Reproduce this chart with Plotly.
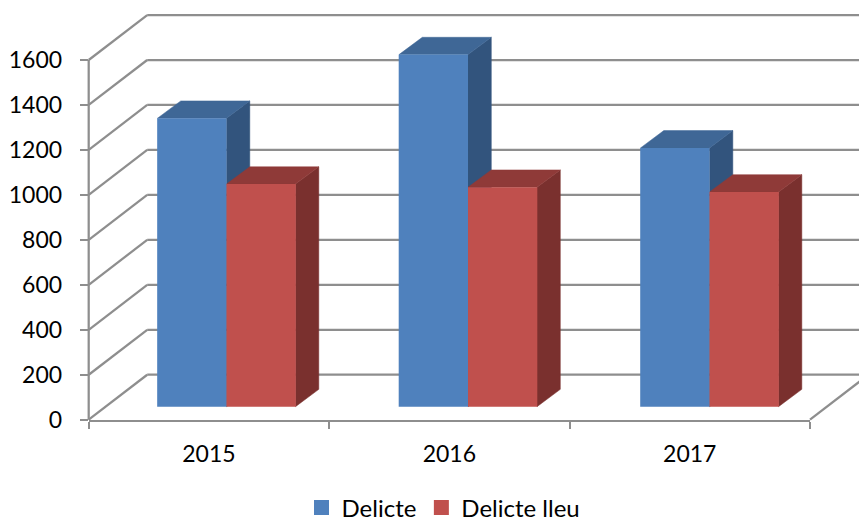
import plotly.graph_objects as go

# ---- data ----
categories = ["2015", "2016", "2017"]
series_names = ["Delicte", "Delicte lleu"]
delicte = [1283, 1566, 1151]
delicte_lleu = [990, 976, 955]
y_ticks = [0, 200, 400, 600, 800, 1000, 1200, 1400, 1600]

# ---- style ----
W, H = 859, 524
FONT = "Lato"
FS = 23
GRID = "#8E8E8E"
GRID_W = 2.25
BLUE = dict(front="#4F81BD", top="#3F6796", side="#32547D")
RED = dict(front="#C0504D", top="#8F3A38", side="#7A302E")

# pixel frame of the real axes
PX_L, PX_R, PX_T, PX_B = 88.7, 810.0, 60.0, 419.7
PX_PER_CAT = (PX_R - PX_L) / 3
PX_PER_VAL = (PX_B - PX_T) / 1600
Y_MAX = 1700  # head-room so that the tallest bar is not cut at the axis top
PX_T_ROOM = PX_B - Y_MAX * PX_PER_VAL

# 3-D projection, in data units
WALL_DX = 58.5 / PX_PER_CAT
WALL_DY = 200
BAR_DX = 23.3 / PX_PER_CAT
BAR_DY = 77
BAR_BASE = 58
BAR_W = 69.0 / PX_PER_CAT
BAR_FIRST = 1.0731
BAR_STEP = 1.0045

bar_centers = [BAR_FIRST + i * BAR_STEP for i in range(len(categories))]
x_pos = [i + 1 for i in range(len(categories))]

fig = go.Figure()


def wall(xs, ys):
    fig.add_trace(go.Scatter(x=xs, y=ys, mode="lines", xaxis="x", yaxis="y",
                             line=dict(color=GRID, width=GRID_W), showlegend=False,
                             hoverinfo="skip"))


x_lo, x_hi = 0.5, 3.5
for t in y_ticks + [1800]:
    if t <= 1600:
        # left wall diagonal
        wall([x_lo, x_lo + WALL_DX], [t, t + WALL_DY])
    # back wall gridline
    if t >= 200:
        wall([x_lo + WALL_DX, x_hi + WALL_DX], [t, t])
# floor, right edge
wall([x_hi, x_hi + WALL_DX], [0, WALL_DY])
# value axis line
wall([x_lo, x_lo], [0, 1600])


def poly(xs, ys, color):
    fig.add_trace(go.Scatter(x=xs + xs[:1], y=ys + ys[:1], mode="lines", fill="toself",
                             fillcolor=color, line=dict(color=color, width=0.5),
                             xaxis="x", yaxis="y", showlegend=False, hoverinfo="skip"))


for i, c in enumerate(bar_centers):
    for vals, col, x0 in ((delicte, BLUE, c - BAR_W), (delicte_lleu, RED, c)):
        x1 = x0 + BAR_W
        top = BAR_BASE + vals[i]
        poly([x1, x1, x1 + BAR_DX, x1 + BAR_DX],
             [BAR_BASE, top, top + BAR_DY, BAR_BASE + BAR_DY], col["side"])
        poly([x0, x1, x1 + BAR_DX, x0 + BAR_DX],
             [top, top, top + BAR_DY, top + BAR_DY], col["top"])

# front faces, on the real axes
for name, vals, col in ((series_names[0], delicte, BLUE), (series_names[1], delicte_lleu, RED)):
    fig.add_trace(go.Bar(x=bar_centers, y=vals, base=[BAR_BASE] * len(vals), name=name,
                         marker=dict(color=col["front"], line=dict(width=0)),
                         xaxis="x2", yaxis="y2", cliponaxis=False, showlegend=False))
    # legend key: a larger square than a bar trace gives
    fig.add_trace(go.Scatter(x=[None], y=[None], name=name, mode="markers",
                             marker=dict(symbol="square", size=15, color=col["front"]),
                             xaxis="x2", yaxis="y2", showlegend=True))

fig.update_layout(
    width=W, height=H, autosize=False,
    margin=dict(l=0, r=0, t=0, b=0, autoexpand=False),
    paper_bgcolor="white", plot_bgcolor="rgba(0,0,0,0)",
    font=dict(family=FONT, size=FS, color="#000000"),
    barmode="group", bargap=1 - 2 * BAR_W, bargroupgap=0,
    legend=dict(orientation="h", x=0.351, xanchor="left", y=-0.012, yanchor="bottom",
                font=dict(family=FONT, size=24), bgcolor="rgba(0,0,0,0)",
                traceorder="normal", itemclick=False, itemdoubleclick=False),
    # full-page projection frame
    xaxis=dict(domain=[0, 1], anchor="y", visible=False,
               range=[0.5 - PX_L / PX_PER_CAT, 0.5 + (W - PX_L) / PX_PER_CAT]),
    yaxis=dict(domain=[0, 1], anchor="x", visible=False,
               range=[-(H - PX_B) / PX_PER_VAL, PX_B / PX_PER_VAL]),
    # real axes
    xaxis2=dict(domain=[PX_L / W, PX_R / W], anchor="y2", range=[x_lo, x_hi],
                tickmode="array", tickvals=x_pos, ticktext=categories,
                ticks="", showgrid=False, zeroline=False, showline=True,
                linecolor=GRID, linewidth=GRID_W, ticklabelstandoff=13,
                tickfont=dict(family=FONT, size=FS),
                minor=dict(tickmode="array", tickvals=[0.5, 1.5, 2.5, 3.5], ticks="outside",
                           ticklen=7, tickwidth=2, tickcolor=GRID, showgrid=False)),
    yaxis2=dict(domain=[(H - PX_B) / H, (H - PX_T_ROOM) / H], anchor="x2", range=[0, Y_MAX],
                tickmode="array", tickvals=y_ticks, ticks="outside", ticklen=8, tickwidth=2,
                tickcolor=GRID, showgrid=False, zeroline=False, showline=False,
                ticklabelstandoff=13, tickfont=dict(family=FONT, size=FS)),
)

fig.write_html("out.html", config={"displayModeBar": False},
               post_script="document.body.style.margin='0';")
